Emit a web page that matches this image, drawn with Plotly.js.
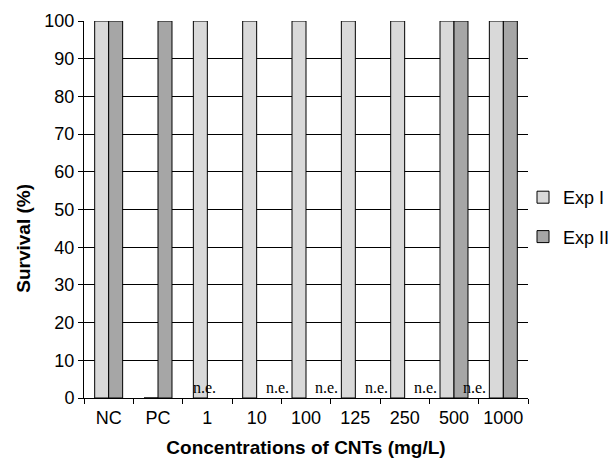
<!DOCTYPE html>
<html>
<head>
<meta charset="utf-8">
<script src="https://cdn.plot.ly/plotly-3.0.1.min.js"></script>
<style>html,body{margin:0;padding:0;background:#fff;}#chart{width:615px;height:458px;}</style>
</head>
<body>
<div id="chart"></div>
<script>
var categories = ['NC', 'PC', '1', '10', '100', '125', '250', '500', '1000'];
var expI = [100, 0, 100, 100, 100, 100, 100, 100, 100];
var expII = [100, 100, null, null, null, null, null, 100, 100];
var seriesNames = ['Exp I', 'Exp II'];
var neCategories = ['1', '10', '100', '125', '250', '500'];
var neText = 'n.e.';
var yTicks = [0, 10, 20, 30, 40, 50, 60, 70, 80, 90, 100];

var SANS = 'Liberation Sans, Arial, sans-serif';
var SERIF = 'Liberation Serif, Times New Roman, serif';

var traces = [
  {type: 'bar', name: seriesNames[0], x: categories, y: expI, legendgroup: 'a',
   marker: {color: '#d9d9d9', line: {color: '#000', width: 1}}},
  {type: 'bar', name: seriesNames[1], x: categories, y: expII, legendgroup: 'b',
   marker: {color: '#a6a6a6', line: {color: '#000', width: 1}}}
];

var pl = 83.6, pr = 87.3, pt = 20.7, pb = 60.3;
var pw = 615 - pl - pr, ph = 458 - pt - pb;

// label offsets (in category units) relative to category centre
var neOffsets = [-0.065, 0.43, 0.41, 0.42, 0.42, 0.41];
var annotations = neCategories.map(function (c, i) {
  return {x: categories.indexOf(c) + neOffsets[i], y: 2.7, xref: 'x', yref: 'y',
    text: neText, showarrow: false, xanchor: 'center', yanchor: 'middle',
    font: {family: SERIF, size: 16, color: '#000'}};
});
annotations.push({x: (23 - pl) / pw, y: (458 - pb - 238) / ph, xref: 'paper', yref: 'paper',
  text: '<b>Survival (%)</b>', showarrow: false, textangle: -90,
  xanchor: 'center', yanchor: 'middle', font: {family: SANS, size: 19, color: '#000'}});

var layout = {
  width: 615, height: 458,
  margin: {l: pl, r: pr, t: pt, b: pb, autoexpand: false},
  paper_bgcolor: '#fff', plot_bgcolor: '#fff',
  font: {family: SANS, size: 18, color: '#000'},
  barmode: 'group', bargap: 0.433, bargroupgap: 0,
  showlegend: true,
  legend: {xref: 'container', yref: 'container', x: 523 / 615, xanchor: 'left',
    y: 1 - 217 / 458, yanchor: 'middle', traceorder: 'grouped',
    tracegroupgap: 13, font: {family: SANS, size: 18}, bgcolor: 'rgba(0,0,0,0)'},
  xaxis: {type: 'category', showline: true, linecolor: '#000', linewidth: 1,
    ticks: 'outside', tickson: 'boundaries', ticklen: 5, tickcolor: '#000', tickangle: 0,
    ticklabelstandoff: 3,
    showgrid: false, zeroline: false, automargin: false,
    title: {text: '<b>Concentrations of CNTs (mg/L)</b>', font: {family: SANS, size: 19}, standoff: 15}},
  yaxis: {range: [0, 100], tickvals: yTicks, showline: true, linecolor: '#000', linewidth: 1,
    ticks: 'outside', ticklen: 5, tickcolor: '#000', showgrid: true, gridcolor: '#000',
    gridwidth: 1, zeroline: false, automargin: false},
  annotations: annotations
};

Plotly.newPlot('chart', traces, layout, {staticPlot: true});
</script>
</body>
</html>
